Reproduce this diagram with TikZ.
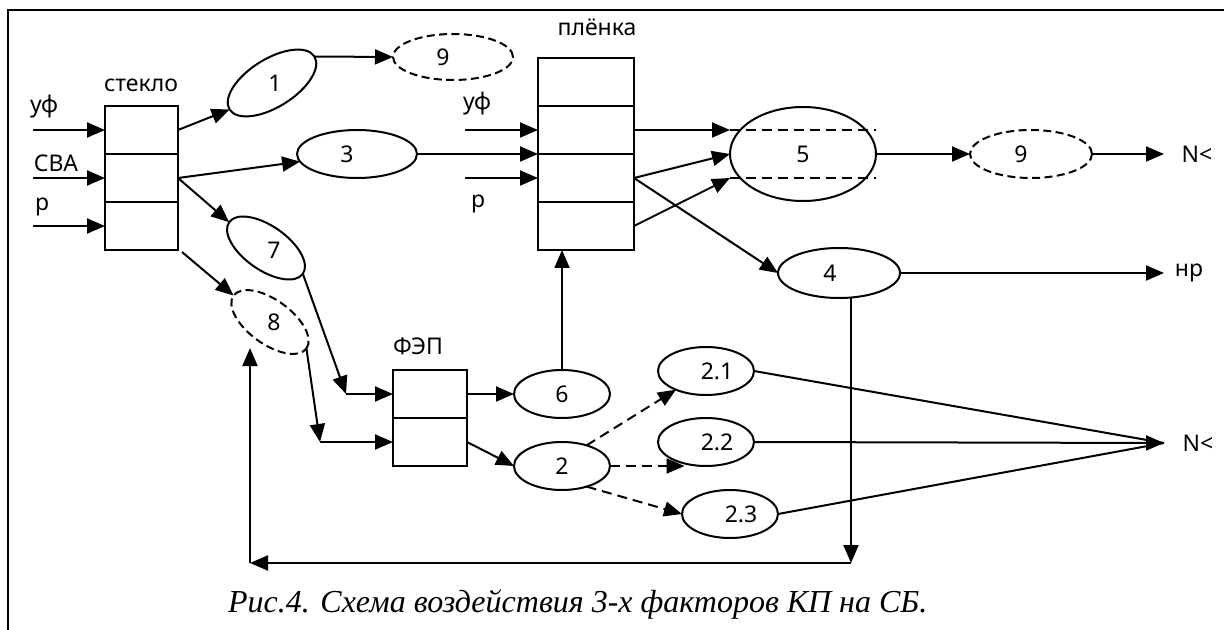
\documentclass[tikz,border=0pt]{standalone}
\usepackage{fontspec}
\setmainfont{Noto Sans}
\newfontfamily\capfont{Liberation Serif}
\usetikzlibrary{shapes.geometric,arrows.meta,calc}

\begin{document}
\begin{tikzpicture}[x=0.5pt,y=-0.5pt,
  line width=1pt,
  >={Triangle[length=9pt,width=7.5pt]},
  every node/.style={font=\fontsize{11.5}{13}\selectfont, inner sep=0pt, outer sep=0pt},
  cell/.style={draw, rectangle, minimum width=#1, minimum height=24pt},
  oval/.style 2 args={draw, ellipse, minimum width=#1, minimum height=#2},
  dashedoval/.style 2 args={oval={#1}{#2}, dash pattern=on 4pt off 2.2pt},
  dashline/.style={dash pattern=on 5pt off 3pt},
  lbl/.style={anchor=center}
]
\useasboundingbox (0,0) rectangle (1224,630);

% frame
\draw[line width=1.1pt] (8,630) -- (8,10) -- (1224,10);

% glass block
\node[cell=36.5pt] (g1) at (141.5,130) {};
\node[cell=36.5pt] (g2) at (141.5,178) {};
\node[cell=36.5pt] (g3) at (141.5,226) {};
\node[lbl] (tglass) at (141,85) {стекло};

% film block
\node[cell=48pt] (f1) at (586,82) {};
\node[cell=48pt] (f2) at (586,130) {};
\node[cell=48pt] (f3) at (586,178) {};
\node[cell=48pt] (f4) at (586,226) {};
\node[lbl] (tfilm) at (597,27) {плёнка};

% solar cell block
\node[cell=37pt] (p1) at (430,394) {};
\node[cell=37pt] (p2) at (430,442) {};
\node[lbl] (tfep) at (418,346) {ФЭП};

% factor ovals
\node[oval={50pt}{24pt}, rotate=32] (e1) at (272,83) {};
\node[lbl] at (275,83) {1};
\node[dashedoval={60pt}{23pt}] (e9) at (453,57) {\hspace*{-10pt}9};
\node[oval={60pt}{24pt}] (e3) at (357,154) {\hspace*{-10pt}3};
\node[oval={45pt}{22pt}, rotate=-35] (e7) at (266,248) {};
\node[lbl] at (274,250) {7};
\node[dashedoval={45pt}{22pt}, rotate=-36] (e8) at (270,322) {};
\node[lbl] at (274,322) {8};
\node[oval={73pt}{47pt}] (e5) at (803,154) {5};
\node[dashedoval={61pt}{24pt}] (e9b) at (1031,154) {\hspace*{-10pt}9};
\node[oval={61pt}{25pt}] (e4) at (839,273) {\hspace*{-9pt}4};
\node[oval={48pt}{24pt}] (e6) at (562,394) {6};
\node[oval={48pt}{24pt}] (e2) at (562,466) {2};
\node[oval={48pt}{24pt}] (e21) at (706,371) {\hspace*{11pt}2.1};
\node[oval={48pt}{24pt}] (e22) at (706,442) {\hspace*{11pt}2.2};
\node[oval={48pt}{24pt}] (e23) at (730,514) {\hspace*{11pt}2.3};

% input labels
\node[lbl] (tuf1) at (44,107) {уф};
\node[lbl] (tsva) at (56,163) {СВА};
\node[lbl] (tr1) at (42,207) {р};
\node[lbl] (tuf2) at (477,104) {уф};
\node[lbl] (tr2) at (478,204) {р};

% output labels
\node[lbl] (tntop) at (1197,154) {N<};
\node[lbl] (tnr) at (1189,273) {нр};
\node[lbl] (tnlow) at (1198,443) {N<};

% free ends and bends
\coordinate (i1) at (33,130);
\coordinate (i2) at (33,178);
\coordinate (i3) at (33,226);
\coordinate (j1) at (465,130);
\coordinate (j3) at (465,178);
\coordinate (k1) at (346,394);
\coordinate (k2) at (320,442);
\coordinate (otop) at (1164,154);
\coordinate (onr) at (1164,273);
\coordinate (olow) at (1164,443);
\coordinate (fbA) at (851,563);
\coordinate (fbB) at (250,563);
\coordinate (fbC) at (250,348);

% inputs to glass
\draw[->] (i1) -- (g1.west);
\draw[->] (i2) -- (g2.west);
\draw[->] (i3) -- (g3.west);

% glass outputs
\draw[->] (g1.east) -- (e1.west);
\draw[->] (g2.east) -- (e3);
\draw[->] (g2.east) -- (e7.west);
\draw[->] ($(g3.south east)+(4,2)$) -- (e8.west);
\draw[->] (e1.east) -- (e9.west);

% inputs to film
\draw[->] (j1) -- (f2.west);
\draw[->] (e3.east) -- (f2.south west);
\draw[->] (j3) -- (f3.west);

% film outputs
\draw[->] (f2.east) -- (e5.west |- f2.east);
\draw[dashline] (e5.west |- f2.east) -- (e5.east |- f2.east);
\draw[dashline] (e5.west |- f3.east) -- (e5.east |- f3.east);
\draw[->] (f3.east) -- (e5.west);
\draw[->] (f4.east) -- (e5.west |- f3.east);
\draw[->] (f3.east) -- (e4.west);
\draw[->] (e5.east) -- (e9b.west);
\draw[->] (e9b.east) -- (otop);
\draw[->] (e4.east) -- (onr);

% to the solar cell block
\draw[->] (e7.east) -- (k1);
\draw[->] (k1) -- (p1.west);
\draw[->] (e8.east) -- (k2);
\draw[->] (k2) -- (p2.west);
\draw[->] (p1.east) -- (e6.west);
\draw[->] (p2.east) -- (e2.west);
\draw[->] (e6.north) -- (e6.north |- f4.south);

% branches of 2
\draw[->, dashline] (e2.40) -- (e21);
\draw[->, dashline] (e2.east) -- (e2.east -| e22.-135);
\draw[->, dashline] (e2.-40) -- (e23.west);
\draw (e21.east) -- (olow);
\draw (e23.east) -- (olow);
\draw[->] (e22.east) -- (olow);

% feedback loop
\draw[->] (e4.south -| fbA) -- (fbA);
\draw[->] (fbA) -- (fbB);
\draw[->] (fbB) -- (fbC);

% caption
\node[anchor=base west, font=\capfont\itshape\fontsize{16}{18}\selectfont] (cap) at (228,612) {Рис.4. Схема воздействия 3-х факторов КП на СБ.};
\end{tikzpicture}
\end{document}
